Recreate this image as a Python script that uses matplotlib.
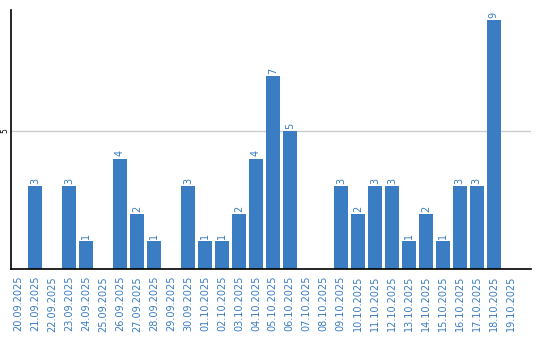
import matplotlib
matplotlib.use('Agg')
import matplotlib.pyplot as plt

dates = ['20.09.2025', '21.09.2025', '22.09.2025', '23.09.2025', '24.09.2025',
         '25.09.2025', '26.09.2025', '27.09.2025', '28.09.2025', '29.09.2025',
         '30.09.2025', '01.10.2025', '02.10.2025', '03.10.2025', '04.10.2025',
         '05.10.2025', '06.10.2025', '07.10.2025', '08.10.2025', '09.10.2025',
         '10.10.2025', '11.10.2025', '12.10.2025', '13.10.2025', '14.10.2025',
         '15.10.2025', '16.10.2025', '17.10.2025', '18.10.2025', '19.10.2025']
counts = [0, 3, 0, 3, 1, 0, 4, 2, 1, 0,
          3, 1, 1, 2, 4, 7, 5, 0, 0, 3,
          2, 3, 3, 1, 2, 1, 3, 3, 9, 0]

blue = '#3a7dc3'

fig = plt.figure(figsize=(5.4, 3.4), dpi=100)
ax = fig.add_axes([0.0204, 0.2088, 0.9626, 0.7618])

x = list(range(len(dates)))
ax.bar(x, counts, width=0.82, color=blue, zorder=2)

# value labels over non-zero bars
for xi, v in zip(x, counts):
    if v > 0:
        ax.text(xi, v + 0.08, str(v), rotation=90, ha='center', va='bottom',
                color=blue, fontsize=7)

ax.set_xlim(-0.41, 30.18)
ax.set_ylim(0, 9.38)
ax.set_yticks([5])
ax.axhline(5, color='#cccccc', linewidth=1, zorder=1)
ax.tick_params(axis='y', length=0, labelleft=False)
# the lone y label sits tight against the spine, rotated
ax.text(-0.011, 5, '5', rotation=90, ha='center', va='center', fontsize=5.5,
        color='black', transform=ax.get_yaxis_transform())

ax.set_xticks(x)
ax.set_xticklabels(dates, rotation=90, color=blue, fontsize=7)
ax.tick_params(axis='x', length=0, pad=5)

for side in ('top', 'right'):
    ax.spines[side].set_visible(False)
ax.spines['left'].set_linewidth(1.2)
ax.spines['bottom'].set_linewidth(1.2)

fig.savefig('out.png', dpi=100)
